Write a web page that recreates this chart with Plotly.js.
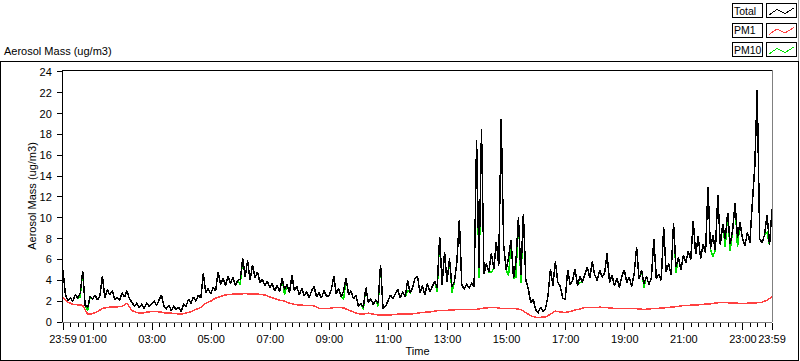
<!DOCTYPE html>
<html>
<head>
<meta charset="utf-8">
<script src="https://cdn.plot.ly/plotly-3.0.1.min.js"></script>
<style>
html,body{margin:0;padding:0;background:#fff;}
#chart{width:800px;height:361px;}
#chart .scatterlayer path, #chart .shapelayer path{shape-rendering:crispEdges;}
</style>
</head>
<body>
<div id="chart"></div>
<script>
// ---- data (minutes after 23:59 of previous day) ----
const SERIES_NAMES = ['Total', 'PM1', 'PM10'];
const TOTAL_STEP_MIN = 5;
const PM1_STEP_MIN = 10;

const totalMass = [
  5.0, 2.6, 2.1, 2.3, 2.0, 2.6, 2.3, 2.8, 4.9, 1.6, 1.4, 2.4,
  2.2, 2.6, 2.1, 2.5, 4.4, 2.3, 3.1, 2.6, 3.0, 2.2, 2.3, 2.1,
  2.8, 2.4, 3.0, 2.2, 1.9, 1.5, 1.8, 1.4, 1.7, 1.3, 1.8, 1.5,
  1.7, 2.0, 1.6, 2.1, 2.6, 1.5, 1.3, 1.6, 1.1, 1.5, 1.2, 1.4,
  1.0, 1.7, 1.5, 2.2, 1.8, 2.4, 2.0, 2.6, 2.3, 4.7, 2.8, 3.2,
  2.7, 3.3, 3.0, 4.8, 3.6, 4.2, 3.5, 4.4, 3.7, 4.3, 3.5, 4.0,
  4.1, 6.1, 4.3, 5.9, 4.0, 5.5, 4.2, 4.8, 3.8, 4.1, 3.5, 3.9,
  3.3, 3.7, 3.0, 3.5, 2.9, 4.2, 3.1, 3.6, 2.8, 4.5, 3.0, 3.4,
  2.6, 3.2, 2.5, 2.9, 2.3, 3.0, 3.4, 2.4, 2.8, 2.3, 3.0, 2.5,
  2.5, 3.1, 4.4, 2.7, 3.2, 2.4, 3.0, 4.2, 2.6, 3.0, 2.2, 2.6,
  1.5, 1.8, 1.4, 3.3, 1.9, 2.2, 1.7, 2.1, 1.8, 5.5, 1.3, 1.5,
  2.0, 2.6, 2.2, 2.7, 3.1, 2.3, 2.9, 2.4, 4.0, 2.8, 3.3, 4.2,
  4.4, 2.8, 3.5, 2.6, 3.7, 2.9, 3.4, 3.9, 3.3, 8.2, 3.6, 6.7,
  3.8, 6.1, 3.4, 3.9, 5.8, 9.8, 3.5, 3.2, 3.6, 3.3, 3.7, 3.4,
  17.5, 5.2, 18.5, 4.6, 5.6, 4.8, 6.6, 5.1, 7.7, 5.4, 19.5, 7.4,
  5.0, 6.2, 7.9, 4.2, 5.8, 10.1, 4.5, 10.4, 4.0, 3.2, 1.8, 2.2,
  1.2, 0.9, 1.4, 1.0, 1.3, 2.5, 5.1, 3.5, 5.8, 3.8, 3.4, 2.3,
  2.2, 5.0, 3.6, 4.0, 5.1, 3.5, 4.4, 3.8, 4.6, 5.3, 4.2, 5.8,
  4.5, 4.0, 5.0, 4.3, 4.7, 6.6, 3.8, 4.5, 3.5, 4.2, 3.3, 4.4,
  5.0, 3.8, 4.3, 3.4, 4.6, 7.2, 4.1, 5.0, 3.7, 4.4, 3.6, 4.2,
  8.0, 4.2, 4.6, 4.0, 9.1, 4.8, 5.6, 4.5, 9.5, 5.3, 6.2, 5.0,
  6.4, 5.7, 6.8, 6.0, 9.7, 6.5, 8.2, 6.1, 7.5, 6.6, 13.0, 7.0,
  8.3, 6.9, 12.2, 7.4, 9.4, 8.0, 10.5, 7.5, 8.8, 11.4, 8.1, 9.6,
  8.0, 7.3, 8.6, 7.6, 11.4, 14.9, 22.3, 8.0, 7.6, 8.4, 10.3, 7.4,
  10.8
];

const pm10Mass = [
  5.0, 2.6, 2.1, 2.3, 2.0, 2.6, 2.3, 2.4, 4.9, 1.6, 1.1, 2.4,
  2.2, 2.6, 2.1, 2.5, 4.4, 2.3, 3.1, 2.6, 3.0, 2.2, 2.3, 2.1,
  2.8, 2.4, 3.0, 2.2, 1.9, 1.5, 1.8, 1.4, 1.7, 1.3, 1.8, 1.5,
  1.7, 2.0, 1.6, 2.1, 2.6, 1.5, 1.3, 1.6, 1.1, 1.5, 1.2, 1.4,
  1.0, 1.7, 1.5, 2.2, 1.8, 2.4, 2.0, 2.6, 2.3, 4.7, 2.8, 3.2,
  2.7, 3.3, 3.0, 4.8, 3.6, 4.2, 3.5, 4.4, 3.7, 4.3, 3.5, 4.0,
  3.6, 6.1, 4.3, 5.9, 4.0, 5.5, 4.2, 4.8, 3.8, 4.1, 3.5, 3.9,
  3.3, 3.7, 3.0, 3.5, 2.9, 4.2, 2.6, 3.6, 2.8, 4.5, 3.0, 3.4,
  2.6, 3.2, 2.5, 2.9, 2.3, 3.0, 3.4, 2.4, 2.8, 2.3, 3.0, 2.5,
  2.5, 3.1, 4.4, 2.7, 3.2, 2.4, 2.2, 4.2, 2.6, 3.0, 2.2, 2.6,
  1.5, 1.8, 1.2, 3.3, 1.9, 2.2, 1.7, 2.1, 1.5, 5.5, 1.3, 1.5,
  2.0, 2.6, 2.2, 2.7, 3.1, 2.3, 2.9, 2.4, 3.0, 2.8, 3.3, 4.2,
  4.4, 2.8, 3.5, 2.6, 3.7, 2.9, 3.4, 3.9, 2.9, 8.2, 3.6, 6.7,
  3.8, 6.1, 2.8, 3.9, 5.8, 9.8, 3.5, 3.2, 3.6, 3.3, 3.7, 3.4,
  17.5, 4.2, 18.5, 4.6, 5.6, 4.8, 4.8, 5.1, 7.7, 5.4, 19.5, 7.4,
  5.0, 4.4, 7.9, 4.2, 4.3, 10.1, 3.7, 10.4, 4.0, 3.2, 1.8, 2.2,
  1.2, 0.9, 1.4, 1.0, 1.3, 2.5, 5.1, 3.5, 5.8, 3.8, 3.4, 2.3,
  2.2, 5.0, 3.6, 4.0, 5.1, 3.5, 3.8, 3.8, 4.6, 5.3, 4.2, 5.8,
  4.5, 4.0, 5.0, 4.3, 4.7, 6.6, 3.8, 4.5, 3.5, 4.2, 3.3, 4.4,
  5.0, 3.8, 4.3, 3.4, 4.6, 7.2, 4.1, 5.0, 3.3, 4.4, 3.6, 4.2,
  8.0, 4.2, 4.6, 4.0, 9.1, 4.8, 5.6, 4.5, 9.5, 4.7, 6.2, 5.0,
  6.4, 5.7, 6.8, 6.0, 9.7, 6.5, 8.2, 6.1, 7.5, 6.6, 13.0, 7.0,
  6.3, 6.9, 12.2, 7.4, 9.4, 7.2, 10.5, 6.8, 8.8, 11.4, 7.2, 9.6,
  8.0, 7.3, 8.6, 7.6, 11.4, 14.9, 22.3, 8.0, 7.6, 8.4, 8.6, 7.4,
  10.8
];

const pm1Mass = [
  2.4, 1.9, 1.7, 1.65, 1.6, 0.75, 0.8, 1.0, 1.3, 1.4, 1.45, 1.45,
  1.5, 1.8, 1.1, 0.9, 0.85, 0.95, 1.0, 1.0, 0.95, 0.85, 0.85, 0.8,
  0.75, 0.85, 1.0, 1.2, 1.4, 1.8, 2.0, 2.3, 2.45, 2.6, 2.65, 2.7,
  2.7, 2.72, 2.7, 2.7, 2.65, 2.6, 2.4, 2.25, 2.1, 2.0, 1.8, 1.7,
  1.62, 1.6, 1.6, 1.55, 1.3, 1.28, 1.3, 1.38, 1.4, 1.35, 1.15, 0.95,
  0.8, 0.75, 0.85, 0.75, 0.68, 0.67, 0.68, 0.7, 0.75, 0.78, 0.77, 0.78,
  0.85, 0.92, 0.95, 1.0, 1.08, 1.1, 1.12, 1.15, 1.2, 1.2, 1.18, 1.2,
  1.22, 1.3, 1.35, 1.4, 1.38, 1.3, 1.3, 1.3, 1.28, 1.2, 0.9, 0.6,
  0.45, 0.45, 0.48, 0.75, 1.05, 0.95, 0.92, 1.0, 1.15, 1.25, 1.4, 1.4,
  1.38, 1.42, 1.4, 1.35, 1.3, 1.3, 1.28, 1.3, 1.32, 1.25, 1.2, 1.25,
  1.3, 1.32, 1.35, 1.4, 1.45, 1.5, 1.58, 1.6, 1.62, 1.65, 1.7, 1.72,
  1.78, 1.85, 1.85, 1.85, 1.82, 1.8, 1.8, 1.8, 1.82, 1.85, 1.9, 2.1,
  2.4
];

const tickMinutes = [0, 61, 181, 301, 421, 541, 661, 781, 901, 1021, 1141, 1261, 1381, 1440];
const tickLabels = ['23:59', '01:00', '03:00', '05:00', '07:00', '09:00', '11:00',
  '13:00', '15:00', '17:00', '19:00', '21:00', '23:00', '23:59'];

// ---- build ----
const tTotal = totalMass.map((_, i) => i * TOTAL_STEP_MIN);
const tPm10 = pm10Mass.map((_, i) => i * TOTAL_STEP_MIN);
const tPm1 = pm1Mass.map((_, i) => i * PM1_STEP_MIN);

const COLORS = {Total: '#000000', PM1: '#ff4040', PM10: '#00e000'};
const FONT = 'Liberation Sans, Arial, sans-serif';

const traces = [
  {x: tPm1, y: pm1Mass, name: 'PM1', type: 'scatter', mode: 'lines',
   line: {color: COLORS.PM1, width: 1.5, simplify: false}, hoverinfo: 'skip'},
  {x: tPm10, y: pm10Mass, name: 'PM10', type: 'scatter', mode: 'lines',
   line: {color: COLORS.PM10, width: 1.5, simplify: false}, hoverinfo: 'skip'},
  {x: tTotal, y: totalMass, name: 'Total', type: 'scatter', mode: 'lines',
   line: {color: COLORS.Total, width: 1.5, simplify: false}, hoverinfo: 'skip'}
];

// plot area in pixels
const PL = 63, PR = 772, PT = 70, PB = 322, W = 800, H = 361;
const px = v => (v - PL) / (PR - PL);
const py = v => (PB - v) / (PB - PT);

const shapes = [];
const annotations = [];
// outer frame
shapes.push({type: 'rect', xref: 'paper', yref: 'paper', x0: px(0.5), x1: px(798.5), y0: py(61.5), y1: py(360.5),
  line: {color: '#000', width: 1}, layer: 'below'});
// plot top (black) and right (gray) borders
shapes.push({type: 'line', xref: 'paper', yref: 'paper', x0: 0, x1: 1, y0: 1, y1: 1, line: {color: '#000', width: 1}});
shapes.push({type: 'line', xref: 'paper', yref: 'paper', x0: 1, x1: 1, y0: 0, y1: 1, line: {color: '#808080', width: 1}});
// legend right gray line
shapes.push({type: 'line', xref: 'paper', yref: 'paper', x0: px(798.5), x1: px(798.5), y0: py(0), y1: py(61), line: {color: '#a0a0a0', width: 1}});

const legendRows = [3.5, 23, 42.5];
SERIES_NAMES.forEach((name, i) => {
  const top = legendRows[i], bot = top + 14;
  shapes.push({type: 'rect', xref: 'paper', yref: 'paper', x0: px(732.5), x1: px(762.5), y0: py(top), y1: py(bot),
    line: {color: '#000', width: 1}, fillcolor: '#fff'});
  shapes.push({type: 'rect', xref: 'paper', yref: 'paper', x0: px(766.5), x1: px(796), y0: py(top), y1: py(bot),
    line: {color: '#000', width: 1}, fillcolor: '#fff'});
  const pts = [[769, top + 11.5], [777, top + 6], [785, top + 10], [794, top + 4.5]];
  const path = pts.map((p, k) => (k ? 'L' : 'M') + px(p[0]) + ',' + py(p[1])).join(' ');
  shapes.push({type: 'path', xref: 'paper', yref: 'paper', path: path, line: {color: COLORS[name], width: 1}});
  annotations.push({xref: 'paper', yref: 'paper', x: px(733), y: py(top + 7.5), xanchor: 'left', yanchor: 'middle',
    text: name, showarrow: false, borderpad: 0, font: {family: FONT, size: 10.5, color: '#000'}});
});

const layout = {
  width: W, height: H,
  margin: {l: PL, r: W - PR, t: PT, b: H - PB, pad: 0},
  paper_bgcolor: '#ffffff', plot_bgcolor: '#ffffff',
  font: {family: FONT, size: 11, color: '#000'},
  showlegend: false,
  title: {text: 'Aerosol Mass (ug/m3)', xref: 'container', yref: 'container', x: 4 / W, xanchor: 'left',
    y: 1 - 51 / H, yanchor: 'middle', font: {family: FONT, size: 11, color: '#000'}},
  xaxis: {
    range: [0, 1440], tickmode: 'array', tickvals: tickMinutes, ticktext: tickLabels, tickangle: 0,
    ticks: 'outside', ticklen: 7, tickcolor: '#000', tickwidth: 1,
    minor: {tickmode: 'linear', tick0: 1, dtick: 15, ticks: 'outside', ticklen: 4, tickcolor: '#000', tickwidth: 1, showgrid: false},
    showgrid: false, zeroline: false, showline: true, linecolor: '#808080', linewidth: 1,
    title: {text: 'Time', font: {family: FONT, size: 11, color: '#000'}, standoff: 3},
    tickfont: {family: FONT, size: 11, color: '#000'}, automargin: false, fixedrange: true
  },
  yaxis: {
    range: [0, 24.19], tickmode: 'linear', tick0: 0, dtick: 2,
    ticks: 'outside', ticklen: 5, tickcolor: '#000', tickwidth: 1,
    showgrid: false, zeroline: false, showline: true, linecolor: '#000', linewidth: 1,
    title: {text: 'Aerosol Mass (ug/m3)', font: {family: FONT, size: 11, color: '#000'}, standoff: 0},
    tickfont: {family: FONT, size: 11, color: '#000'}, automargin: false, fixedrange: true,
    ticklabelstandoff: 3
  },
  shapes: shapes,
  annotations: annotations
};

Plotly.newPlot('chart', traces, layout, {displayModeBar: false, staticPlot: true});
</script>
</body>
</html>
